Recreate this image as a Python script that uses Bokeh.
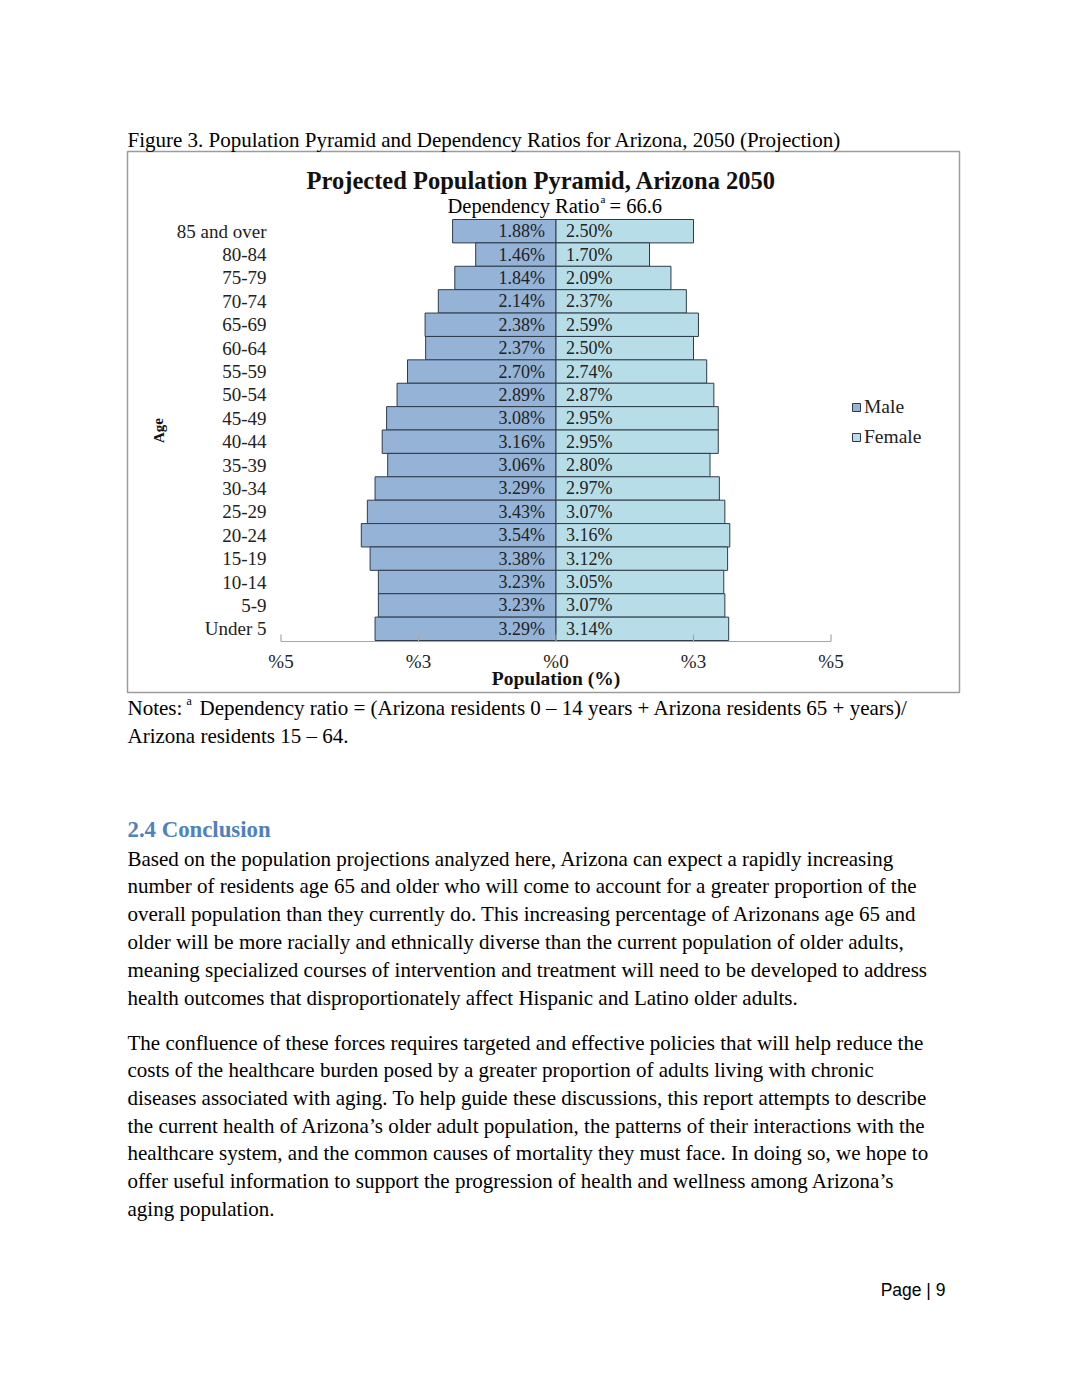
from bokeh.plotting import figure
from bokeh.models import Range1d, Legend, LegendItem
from bokeh.core.properties import value
from bokeh.embed import file_html
from bokeh.resources import INLINE

# ---------------- data ----------------
age_groups = ["85 and over", "80-84", "75-79", "70-74", "65-69", "60-64", "55-59",
              "50-54", "45-49", "40-44", "35-39", "30-34", "25-29", "20-24",
              "15-19", "10-14", "5-9", "Under 5"]
male_pct = [1.88, 1.46, 1.84, 2.14, 2.38, 2.37, 2.70, 2.89, 3.08, 3.16, 3.06,
            3.29, 3.43, 3.54, 3.38, 3.23, 3.23, 3.29]
female_pct = [2.50, 1.70, 2.09, 2.37, 2.59, 2.50, 2.74, 2.87, 2.95, 2.95, 2.80,
              2.97, 3.07, 3.16, 3.12, 3.05, 3.07, 3.14]
tick_values = [-5, -2.5, 0, 2.5, 5]
tick_labels = ["%5", "%3", "%0", "%3", "%5"]

caption = "Figure 3. Population Pyramid and Dependency Ratios for Arizona, 2050 (Projection)"
chart_title = "Projected Population Pyramid, Arizona 2050"
notes_line1 = "Dependency ratio = (Arizona residents 0 \u2013 14 years + Arizona residents 65 + years)/"
notes_line2 = "Arizona residents 15 \u2013 64."
heading = "2.4 Conclusion"
para1 = [
    "Based on the population projections analyzed here, Arizona can expect a rapidly increasing",
    "number of residents age 65 and older who will come to account for a greater proportion of the",
    "overall population than they currently do. This increasing percentage of Arizonans age 65 and",
    "older will be more racially and ethnically diverse than the current population of older adults,",
    "meaning specialized courses of intervention and treatment will need to be developed to address",
    "health outcomes that disproportionately affect Hispanic and Latino older adults.",
]
para2 = [
    "The confluence of these forces requires targeted and effective policies that will help reduce the",
    "costs of the healthcare burden posed by a greater proportion of adults living with chronic",
    "diseases associated with aging. To help guide these discussions, this report attempts to describe",
    "the current health of Arizona\u2019s older adult population, the patterns of their interactions with the",
    "healthcare system, and the common causes of mortality they must face. In doing so, we hope to",
    "offer useful information to support the progression of health and wellness among Arizona\u2019s",
    "aging population.",
]

# ---------------- layout constants ----------------
W, H = 1063, 1378
PAGE_L, PAGE_T = 0, 0
X0 = 555.5          # page x of 0 %
PX_PER_PCT = 55.0   # pixels per percent
ROW0 = 230.7        # page y of first row centre
ROW_H = 23.39       # row pitch

SERIF = value("Liberation Serif")
MALE_C = "#95B3D7"
FEMALE_C = "#B7DEE8"
EDGE_C = "#2E3B4A"

p = figure(width=W, height=H, output_backend="svg", toolbar_location=None,
           x_range=Range1d(PAGE_L, PAGE_L + W), y_range=Range1d(PAGE_T + H, PAGE_T),
           x_axis_location=None, y_axis_location=None, min_border=0)
p.grid.visible = False
p.outline_line_color = None
p.background_fill_color = "white"
p.border_fill_color = "white"

p.extra_x_ranges = {"pct": Range1d((PAGE_L - X0) / PX_PER_PCT, (PAGE_L + W - X0) / PX_PER_PCT)}
p.extra_y_ranges = {"age": Range1d((PAGE_T + H - ROW0) / ROW_H, (PAGE_T - ROW0) / ROW_H)}

rows = list(range(len(age_groups)))
neg_male = [-v for v in male_pct]

# chart frame box
p.quad(left=[127], right=[959], top=[151], bottom=[692], fill_color=None,
       line_color="#9C9C9C", line_width=1.5)

# bars
male_r = p.hbar(y=rows, left=neg_male, right=[0] * len(rows), height=1.0,
                fill_color=MALE_C, line_color=EDGE_C, line_width=1,
                x_range_name="pct", y_range_name="age")
female_r = p.hbar(y=rows, left=[0] * len(rows), right=female_pct, height=1.0,
                  fill_color=FEMALE_C, line_color=EDGE_C, line_width=1,
                  x_range_name="pct", y_range_name="age")

# bar labels
p.text(x=[0] * len(rows), y=rows, text=["%.2f%%" % v for v in male_pct],
       x_offset=-11, text_align="right", text_baseline="middle",
       text_font=SERIF, text_font_size="18px", text_color="#222222",
       x_range_name="pct", y_range_name="age")
p.text(x=[0] * len(rows), y=rows, text=["%.2f%%" % v for v in female_pct],
       x_offset=10, text_align="left", text_baseline="middle",
       text_font=SERIF, text_font_size="18px", text_color="#222222",
       x_range_name="pct", y_range_name="age")

# age labels
p.text(x=[266] * len(rows), y=rows, text=age_groups, text_align="right",
       text_baseline="middle", text_font=SERIF, text_font_size="19px",
       text_color="#222222", y_range_name="age")

# x axis (drawn inside chart box)
p.segment(x0=[tick_values[0]], x1=[tick_values[-1]], y0=[641], y1=[641],
          line_color="#A6A6A6", line_width=1.2, x_range_name="pct")
p.segment(x0=tick_values, x1=tick_values, y0=[641] * 5, y1=[634] * 5,
          line_color="#A6A6A6", line_width=1.2, x_range_name="pct")
p.text(x=tick_values, y=[661] * 5, text=tick_labels, text_align="center",
       text_baseline="middle", text_font=SERIF, text_font_size="19px",
       text_color="#222222", x_range_name="pct")
p.text(x=[0], y=[678], text=["Population (%)"], text_align="center",
       text_baseline="middle", text_font=SERIF, text_font_size="19.5px",
       text_font_style="bold", text_color="#111111", x_range_name="pct")

# y axis title
p.text(x=[158], y=[430], text=["Age"], angle=1.5708, text_align="center",
       text_baseline="middle", text_font=SERIF, text_font_size="15px",
       text_font_style="bold", text_color="#111111")

# chart title + dependency ratio
p.text(x=[541], y=[180], text=[chart_title], text_align="center",
       text_baseline="middle", text_font=SERIF, text_font_size="24.5px",
       text_font_style="bold", text_color="#111111")
p.text(x=[599], y=[205], text=["Dependency Ratio"], text_align="right",
       text_baseline="middle", text_font=SERIF, text_font_size="20.5px",
       text_color="black")
p.text(x=[600], y=[198], text=["a"], text_align="left",
       text_baseline="middle", text_font=SERIF, text_font_size="11px",
       text_color="black")
p.text(x=[609], y=[205], text=["= 66.6"], text_align="left",
       text_baseline="middle", text_font=SERIF, text_font_size="20.5px",
       text_color="black")

# legend
legend = Legend(items=[LegendItem(label="Male", renderers=[male_r]),
                       LegendItem(label="Female", renderers=[female_r])],
                location=(851, H - 448), orientation="vertical",
                glyph_width=10, glyph_height=10, label_standoff=3,
                label_height=20, spacing=8, padding=0, margin=0,
                border_line_color=None, background_fill_alpha=0,
                label_text_font="Liberation Serif", label_text_font_size="19.5px",
                label_text_color="#222222")
p.add_layout(legend, "center")

# page text
BODY = "21px"
p.text(x=[127], y=[139], text=[caption], text_align="left", text_baseline="middle",
       text_font=SERIF, text_font_size=BODY, text_color="black")
p.text(x=[127], y=[707], text=["Notes:"], text_align="left", text_baseline="middle",
       text_font=SERIF, text_font_size=BODY, text_color="black")
p.text(x=[186], y=[700], text=["a"], text_align="left", text_baseline="middle",
       text_font=SERIF, text_font_size="12px", text_color="black")
p.text(x=[199], y=[707], text=[notes_line1], text_align="left", text_baseline="middle",
       text_font=SERIF, text_font_size=BODY, text_color="black")
p.text(x=[127], y=[735], text=[notes_line2], text_align="left", text_baseline="middle",
       text_font=SERIF, text_font_size=BODY, text_color="black")
p.text(x=[127], y=[829], text=[heading], text_align="left", text_baseline="middle",
       text_font=SERIF, text_font_size="22.8px", text_font_style="bold",
       text_color="#4F81BD")
p.text(x=[127] * len(para1), y=[858 + 27.8 * i for i in range(len(para1))], text=para1,
       text_align="left", text_baseline="middle", text_font=SERIF,
       text_font_size=BODY, text_color="black")
p.text(x=[127] * len(para2), y=[1042 + 27.7 * i for i in range(len(para2))], text=para2,
       text_align="left", text_baseline="middle", text_font=SERIF,
       text_font_size=BODY, text_color="black")
p.text(x=[945], y=[1289], text=["Page | 9"], text_align="right", text_baseline="middle",
       text_font=value("Liberation Sans"), text_font_size="17.5px", text_color="black")

open("out.html", "w").write(file_html(p, INLINE))
